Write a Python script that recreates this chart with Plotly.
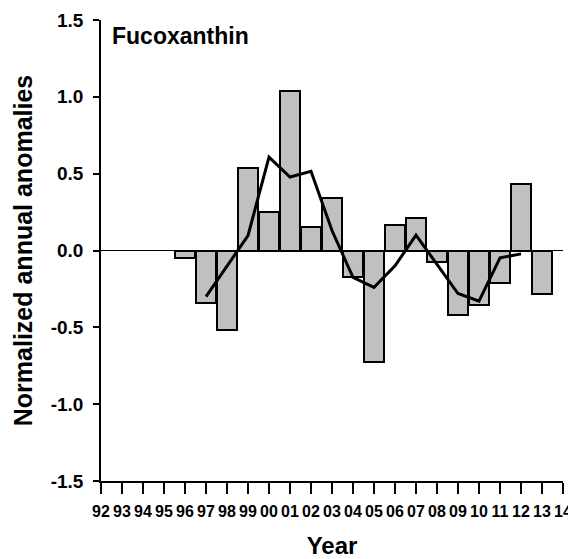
import plotly.graph_objects as go

# Data
year_labels = ["92", "93", "94", "95", "96", "97", "98", "99", "00", "01", "02", "03",
               "04", "05", "06", "07", "08", "09", "10", "11", "12", "13", "14"]
bar_years = ["96", "97", "98", "99", "00", "01", "02", "03", "04", "05",
             "06", "07", "08", "09", "10", "11", "12", "13"]
bar_values = [-0.05, -0.34, -0.515, 0.54, 0.25, 1.035, 0.152, 0.343, -0.17, -0.723,
              0.169, 0.21, -0.072, -0.42, -0.354, -0.213, 0.432, -0.285]
line_years = ["97", "98", "99", "00", "01", "02", "03", "04", "05", "06",
              "07", "08", "09", "10", "11", "12"]
line_values = [-0.30, -0.10, 0.097, 0.608, 0.478, 0.515, 0.13, -0.175, -0.24, -0.10,
               0.10, -0.09, -0.28, -0.33, -0.048, -0.022]
y_ticks = [-1.5, -1.0, -0.5, 0.0, 0.5, 1.0, 1.5]

pos = {lab: i for i, lab in enumerate(year_labels)}

fig = go.Figure()
fig.add_trace(go.Bar(
    x=[pos[y] for y in bar_years], y=bar_values, width=0.95,
    marker=dict(color="#c0c0c0", line=dict(color="black", width=2)),
    showlegend=False,
))
fig.add_trace(go.Scatter(
    x=[pos[y] for y in line_years], y=line_values, mode="lines",
    line=dict(color="black", width=3), showlegend=False,
))

font_family = "Liberation Sans, Arial, sans-serif"
fig.update_layout(
    width=568, height=551,
    margin=dict(l=93, r=13, t=12, b=78),
    plot_bgcolor="white", paper_bgcolor="white",
    font=dict(family=font_family, color="black"),
    bargap=0,
    xaxis=dict(
        range=[0, len(year_labels) - 1], automargin=False,
        tickmode="array", tickvals=list(range(len(year_labels))), ticktext=year_labels,
        ticks="outside", ticklen=11, tickwidth=1.5, tickcolor="black",
        showline=True, linecolor="black", linewidth=1.5,
        showgrid=False, zeroline=False,
        tickfont=dict(size=16, family=font_family, weight="bold"),
        ticklabelstandoff=4,
        title=dict(text="<b>Year</b>", font=dict(size=24), standoff=18),
    ),
    yaxis=dict(
        range=[-1.5, 1.5], automargin=False,
        tickmode="array", tickvals=y_ticks, ticktext=[f"{v:.1f}" for v in y_ticks],
        ticks="outside", ticklen=6, tickwidth=1.5, tickcolor="black",
        showline=True, linecolor="black", linewidth=1.5,
        showgrid=False, zeroline=True, zerolinecolor="black", zerolinewidth=1,
        tickfont=dict(size=19, family=font_family, weight="bold"),
        ticklabelstandoff=6,
        title=dict(text="<b>Normalized annual anomalies</b>", font=dict(size=25), standoff=11),
    ),
    annotations=[dict(
        text="<b>Fucoxanthin</b>", xref="paper", yref="paper",
        x=0.02, y=0.997, xanchor="left", yanchor="top", showarrow=False,
        font=dict(size=23, family=font_family),
    )],
)

fig.write_html("out.html")
